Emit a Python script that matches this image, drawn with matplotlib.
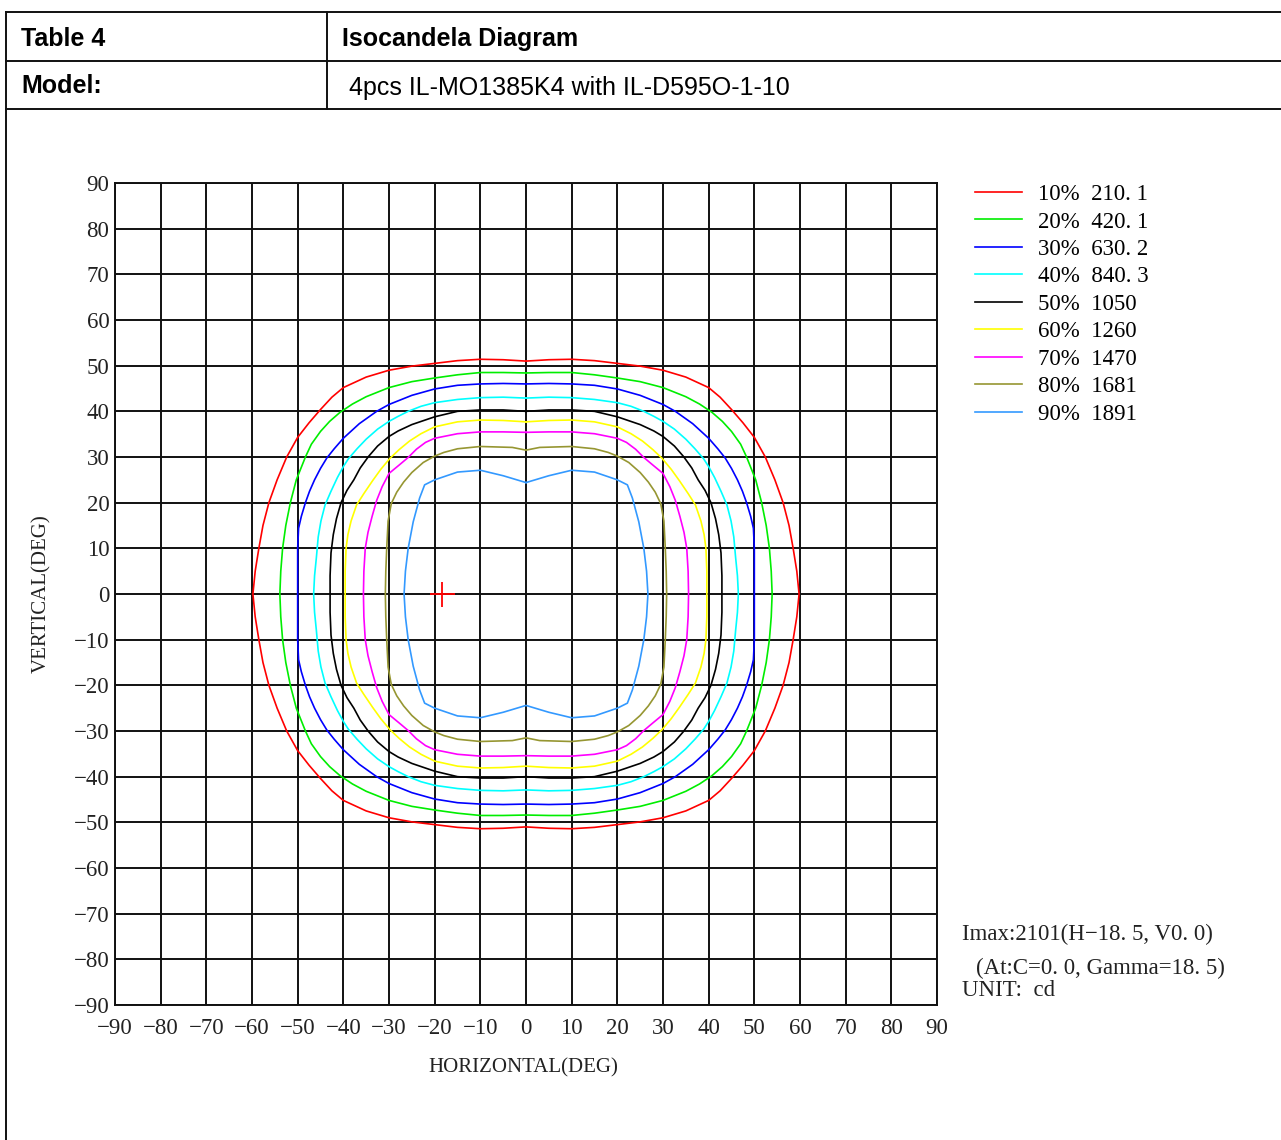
import matplotlib
matplotlib.use("Agg")
import matplotlib.pyplot as plt
from matplotlib.lines import Line2D
import numpy as np

# ---------------- data ----------------
levels_pct = ["10%", "20%", "30%", "40%", "50%", "60%", "70%", "80%", "90%"]
levels_cd = ["210. 1", "420. 1", "630. 2", "840. 3", "1050", "1260", "1470", "1681", "1891"]
colors = ["#ff0000", "#00ee00", "#0000ff", "#00ffff", "#000000",
          "#ffff00", "#ff00ff", "#969632", "#3399ff"]

# Upper-left quadrant of each isocandela line, from (0, top) to (left, 0); degrees
c10_x = [0, -5, -10, -15, -20, -25, -30, -35, -40, -42.5, -45, -47.5, -50, -52.4, -54.5, -56.3, -57.6, -58.5, -59.3, -59.8]
c10_y = [51.0, 51.3, 51.4, 51.1, 50.5, 49.9, 49.0, 47.5, 45.2, 43.1, 40.4, 37.5, 34.3, 30.0, 25.0, 20.0, 15.0, 10.0, 5.0, 0.0]
c20_x = [0, -5, -10, -15, -20, -25, -30, -35, -38, -40.7, -43, -45, -47, -48.3, -49.5, -50.3, -51.6, -52.6, -53.3, -53.7, -53.9]
c20_y = [48.4, 48.5, 48.5, 48.0, 47.3, 46.5, 45.2, 43.2, 41.6, 39.8, 37.8, 35.6, 32.8, 30.0, 27.0, 25.0, 20.0, 15.0, 10.0, 5.0, 0.0]
c30_x = [0, -5, -10, -15, -20, -25, -30, -32.7, -36.5, -40, -42, -43.6, -45, -46.3, -47.4, -48.3, -49.2, -49.8, -50, -50]
c30_y = [46.0, 46.1, 46.0, 45.7, 44.9, 43.5, 41.5, 40.0, 37.3, 34.1, 31.8, 29.8, 27.5, 25.0, 22.5, 20.0, 17.0, 14.4, 10.0, 0.0]
c40_x = [0, -5, -10, -15, -20, -23, -25.8, -28, -30, -32.5, -35, -37, -38.9, -40, -41.3, -42.7, -44, -44.9, -45.5, -45.9, -46.3, -46.5]
c40_y = [42.9, 43.1, 43.0, 42.6, 41.9, 41.1, 40.0, 38.9, 37.8, 36.1, 33.9, 31.8, 29.6, 27.9, 25.5, 22.5, 19.5, 16.0, 12.5, 8.0, 4.0, 0.0]
c50_x = [0, -5, -10, -15, -20, -25, -28, -30, -32.5, -34.5, -36.3, -37.7, -39.2, -40.5, -41.5, -42.2, -42.7, -42.9, -42.9]
c50_y = [40.0, 40.3, 40.3, 40.0, 38.8, 37.1, 35.7, 34.5, 32.4, 30.1, 27.6, 25.0, 22.7, 20.0, 16.5, 13.0, 9.0, 4.0, 0.0]
c60_x = [0, -5, -10, -15, -20, -23, -25.5, -27.8, -29.8, -31.8, -33.6, -35.5, -37.1, -38.3, -39.0, -39.4, -39.6, -39.6]
c60_y = [37.7, 38.0, 38.1, 37.7, 36.6, 35.1, 33.5, 31.6, 29.7, 27.3, 24.8, 22.0, 19.5, 16.0, 13.0, 10.0, 5.0, 0.0]
c70_x = [0, -5, -10, -15, -20, -22, -24, -25.8, -27.7, -30, -31.5, -32.7, -33.7, -34.6, -35.2, -35.5, -35.6]
c70_y = [35.4, 35.5, 35.5, 35.1, 34.1, 33.2, 31.7, 29.9, 28.3, 26.4, 23.5, 20.5, 17.0, 13.5, 10.0, 5.0, 0.0]
c80_x = [0, -3, -10, -15, -18, -20, -22.5, -25, -26.8, -28.3, -29.5, -30.2, -30.5, -30.7, -30.8]
c80_y = [31.5, 32.1, 32.3, 31.8, 31.0, 30.2, 28.8, 26.6, 24.5, 22.3, 19.8, 16.0, 10.0, 5.0, 0.0]
c90_x = [0, -5, -10, -15, -20, -22.2, -23.3, -24.7, -25.8, -26.4, -26.7]
c90_y = [24.4, 25.9, 27.1, 26.7, 25.0, 23.9, 21.0, 15.8, 10.0, 5.0, 0.0]

quad_x = [c10_x, c20_x, c30_x, c40_x, c50_x, c60_x, c70_x, c80_x, c90_x]
quad_y = [c10_y, c20_y, c30_y, c40_y, c50_y, c60_y, c70_y, c80_y, c90_y]

imax_h = -18.5
imax_v = 0.0

tick_values = list(range(-90, 91, 10))
tick_labels = [str(v).replace("-", "\u2212") for v in tick_values]

# ---------------- figure ----------------
W, H = 1281, 1140
fig = plt.figure(figsize=(W / 100, H / 100), dpi=100)
fig.patch.set_facecolor("white")

def fx(px):
    return px / W

def fy(py):
    return 1 - py / H

# table frame
tbl_kw = dict(color="#111111", lw=1.4, transform=fig.transFigure)
for yy in (12, 61, 109):
    fig.add_artist(Line2D([fx(6), fx(1281)], [fy(yy), fy(yy)], **tbl_kw))
fig.add_artist(Line2D([fx(6), fx(6)], [fy(12), fy(1140)], **tbl_kw))
fig.add_artist(Line2D([fx(327), fx(327)], [fy(12), fy(109)], **tbl_kw))

sans = ["Liberation Sans", "DejaVu Sans"]
fig.text(fx(21), fy(46), "Table 4", fontsize=18, fontweight="bold", family=sans, va="baseline")
fig.text(fx(342), fy(46), "Isocandela Diagram", fontsize=18, fontweight="bold", family=sans, va="baseline")
fig.text(fx(21), fy(93), "Model:", fontsize=18, fontweight="bold", family=sans, va="baseline")
fig.text(fx(349), fy(95), "4pcs IL-MO1385K4 with IL-D595O-1-10", fontsize=18, family=sans, va="baseline")

# chart axes
serif = ["Liberation Serif", "DejaVu Serif"]
ax = fig.add_axes([fx(115), fy(1005), 822 / W, 822 / H])
ax.set_xlim(-90, 90)
ax.set_ylim(-90, 90)
ax.set_xticks(tick_values)
ax.set_yticks(tick_values)
ax.set_xticklabels(tick_labels, family=serif, fontsize=16.5)
ax.set_yticklabels(tick_labels, family=serif, fontsize=16.5)
ax.tick_params(length=0, colors="#222222")
ax.tick_params(axis="x", pad=9)
ax.tick_params(axis="y", pad=4)
ax.grid(True, color="#111111", lw=1.4)
ax.set_axisbelow(True)
for s in ax.spines.values():
    s.set_color("#111111")
    s.set_linewidth(1.4)

handles = []
for qx, qy, col in zip(quad_x, quad_y, colors):
    qx = np.asarray(qx, float)
    qy = np.asarray(qy, float)
    # mirror the quadrant to close the curve
    xs = np.concatenate([qx, qx[::-1][1:], -qx[1:], -qx[::-1][1:]])
    ys = np.concatenate([qy, -qy[::-1][1:], -qy[1:], qy[::-1][1:]])
    h, = ax.plot(xs, ys, color=col, lw=1.2, solid_joinstyle="round", zorder=3)
    handles.append(h)

ax.plot([imax_h], [imax_v], marker="+", color="#ff0000", markersize=18, mew=1.3, zorder=4)

labels = [f"{p}  {c}" for p, c in zip(levels_pct, levels_cd)]
ax.legend(handles, labels, loc="upper left", bbox_to_anchor=(fx(975), fy(184)),
          bbox_transform=fig.transFigure, frameon=False,
          prop={"family": serif, "size": 16.5}, handlelength=2.05,
          handletextpad=0.7, labelspacing=0.28, borderpad=0, borderaxespad=0)

# axis labels
fig.text(fx(523), fy(1068), "HORIZONTAL(DEG)", family=serif, fontsize=15,
         ha="center", va="center", color="#222222")
fig.text(fx(42), fy(594), "VERTICAL(DEG)", family=serif, fontsize=15,
         ha="center", va="center", rotation=90, color="#222222")

# annotations
fig.text(fx(962), fy(934), "Imax:2101(H\u221218. 5, V0. 0)", family=serif, fontsize=16.5,
         ha="left", va="center", color="#222222")
fig.text(fx(976), fy(968), "(At:C=0. 0, Gamma=18. 5)", family=serif, fontsize=16.5,
         ha="left", va="center", color="#222222")
fig.text(fx(962), fy(990), "UNIT:  cd", family=serif, fontsize=16.5,
         ha="left", va="center", color="#222222")

fig.savefig("out.png", dpi=100, facecolor="white")
